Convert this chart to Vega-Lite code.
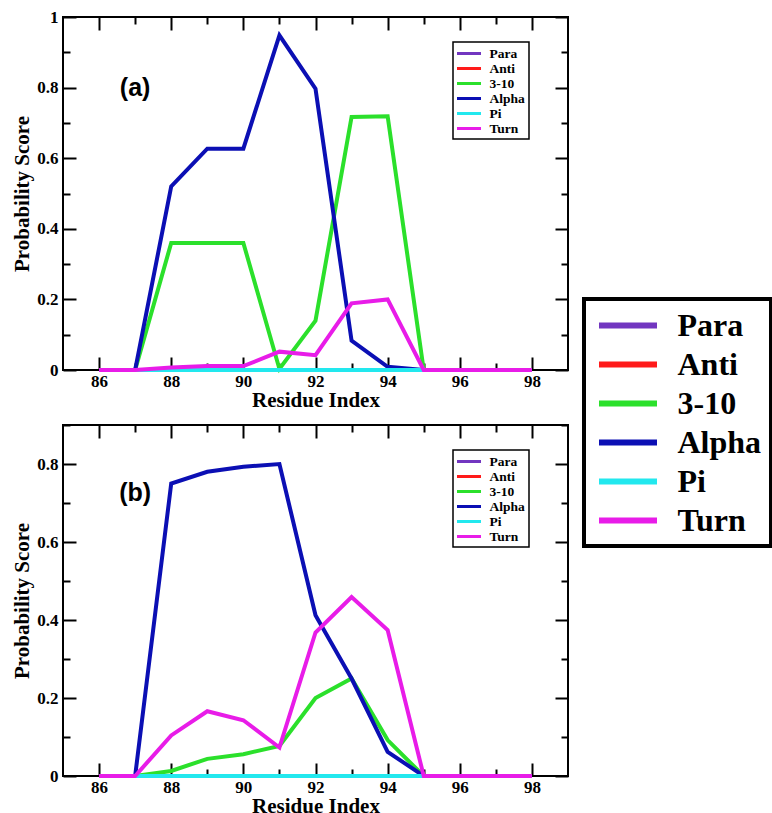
{
  "$schema": "https://vega.github.io/schema/vega-lite/v6.json",
  "usermeta": {"embedOptions": {"actions": false}},
  "padding": {"left": 10, "top": 7, "right": 0, "bottom": 0},
  "bounds": "flush",
  "spacing": 55,
  "config": {
    "view": {"stroke": "black", "strokeWidth": 2},
    "font": "Liberation Serif",
    "axis": {
      "labelFont": "Liberation Serif", "labelFontWeight": "bold", "labelFontSize": 17, "labelColor": "black",
      "titleFont": "Liberation Serif", "titleFontWeight": "bold", "titleFontSize": 21, "titleColor": "black",
      "domain": false, "grid": false, "tickColor": "black", "tickWidth": 2,
      "labelOverlap": false, "labelFlush": false
    },
    "legend": {
      "title": null, "orient": "none", "symbolType": "M-2,0H2", "symbolOpacity": 1,
      "labelFont": "Liberation Serif", "labelFontWeight": "bold", "labelColor": "black",
      "strokeColor": "black", "fillColor": "white"
    }
  },
  "datasets": {
    "a": [
      {"series": "Para", "residue": 86, "score": 0}, {"series": "Para", "residue": 87, "score": 0}, {"series": "Para", "residue": 88, "score": 0}, {"series": "Para", "residue": 89, "score": 0}, {"series": "Para", "residue": 90, "score": 0}, {"series": "Para", "residue": 91, "score": 0}, {"series": "Para", "residue": 92, "score": 0}, {"series": "Para", "residue": 93, "score": 0}, {"series": "Para", "residue": 94, "score": 0}, {"series": "Para", "residue": 95, "score": 0}, {"series": "Para", "residue": 96, "score": 0}, {"series": "Para", "residue": 97, "score": 0}, {"series": "Para", "residue": 98, "score": 0},
      {"series": "Anti", "residue": 86, "score": 0}, {"series": "Anti", "residue": 87, "score": 0}, {"series": "Anti", "residue": 88, "score": 0}, {"series": "Anti", "residue": 89, "score": 0}, {"series": "Anti", "residue": 90, "score": 0}, {"series": "Anti", "residue": 91, "score": 0}, {"series": "Anti", "residue": 92, "score": 0}, {"series": "Anti", "residue": 93, "score": 0}, {"series": "Anti", "residue": 94, "score": 0}, {"series": "Anti", "residue": 95, "score": 0}, {"series": "Anti", "residue": 96, "score": 0}, {"series": "Anti", "residue": 97, "score": 0}, {"series": "Anti", "residue": 98, "score": 0},
      {"series": "3-10", "residue": 86, "score": 0}, {"series": "3-10", "residue": 87, "score": 0}, {"series": "3-10", "residue": 88, "score": 0.36}, {"series": "3-10", "residue": 89, "score": 0.36}, {"series": "3-10", "residue": 90, "score": 0.36}, {"series": "3-10", "residue": 91, "score": 0.003}, {"series": "3-10", "residue": 92, "score": 0.14}, {"series": "3-10", "residue": 93, "score": 0.717}, {"series": "3-10", "residue": 94, "score": 0.719}, {"series": "3-10", "residue": 95, "score": 0}, {"series": "3-10", "residue": 96, "score": 0}, {"series": "3-10", "residue": 97, "score": 0}, {"series": "3-10", "residue": 98, "score": 0},
      {"series": "Alpha", "residue": 86, "score": 0}, {"series": "Alpha", "residue": 87, "score": 0}, {"series": "Alpha", "residue": 88, "score": 0.52}, {"series": "Alpha", "residue": 89, "score": 0.627}, {"series": "Alpha", "residue": 90, "score": 0.627}, {"series": "Alpha", "residue": 91, "score": 0.948}, {"series": "Alpha", "residue": 92, "score": 0.797}, {"series": "Alpha", "residue": 93, "score": 0.083}, {"series": "Alpha", "residue": 94, "score": 0.009}, {"series": "Alpha", "residue": 95, "score": 0}, {"series": "Alpha", "residue": 96, "score": 0}, {"series": "Alpha", "residue": 97, "score": 0}, {"series": "Alpha", "residue": 98, "score": 0},
      {"series": "Pi", "residue": 86, "score": 0}, {"series": "Pi", "residue": 87, "score": 0}, {"series": "Pi", "residue": 88, "score": 0}, {"series": "Pi", "residue": 89, "score": 0}, {"series": "Pi", "residue": 90, "score": 0}, {"series": "Pi", "residue": 91, "score": 0}, {"series": "Pi", "residue": 92, "score": 0}, {"series": "Pi", "residue": 93, "score": 0}, {"series": "Pi", "residue": 94, "score": 0}, {"series": "Pi", "residue": 95, "score": 0}, {"series": "Pi", "residue": 96, "score": 0}, {"series": "Pi", "residue": 97, "score": 0}, {"series": "Pi", "residue": 98, "score": 0},
      {"series": "Turn", "residue": 86, "score": 0}, {"series": "Turn", "residue": 87, "score": 0}, {"series": "Turn", "residue": 88, "score": 0.007}, {"series": "Turn", "residue": 89, "score": 0.011}, {"series": "Turn", "residue": 90, "score": 0.011}, {"series": "Turn", "residue": 91, "score": 0.052}, {"series": "Turn", "residue": 92, "score": 0.042}, {"series": "Turn", "residue": 93, "score": 0.189}, {"series": "Turn", "residue": 94, "score": 0.2}, {"series": "Turn", "residue": 95, "score": 0}, {"series": "Turn", "residue": 96, "score": 0}, {"series": "Turn", "residue": 97, "score": 0}, {"series": "Turn", "residue": 98, "score": 0}
    ],
    "b": [
      {"series": "Para", "residue": 86, "score": 0}, {"series": "Para", "residue": 87, "score": 0}, {"series": "Para", "residue": 88, "score": 0}, {"series": "Para", "residue": 89, "score": 0}, {"series": "Para", "residue": 90, "score": 0}, {"series": "Para", "residue": 91, "score": 0}, {"series": "Para", "residue": 92, "score": 0}, {"series": "Para", "residue": 93, "score": 0}, {"series": "Para", "residue": 94, "score": 0}, {"series": "Para", "residue": 95, "score": 0}, {"series": "Para", "residue": 96, "score": 0}, {"series": "Para", "residue": 97, "score": 0}, {"series": "Para", "residue": 98, "score": 0},
      {"series": "Anti", "residue": 86, "score": 0}, {"series": "Anti", "residue": 87, "score": 0}, {"series": "Anti", "residue": 88, "score": 0}, {"series": "Anti", "residue": 89, "score": 0}, {"series": "Anti", "residue": 90, "score": 0}, {"series": "Anti", "residue": 91, "score": 0}, {"series": "Anti", "residue": 92, "score": 0}, {"series": "Anti", "residue": 93, "score": 0}, {"series": "Anti", "residue": 94, "score": 0}, {"series": "Anti", "residue": 95, "score": 0}, {"series": "Anti", "residue": 96, "score": 0}, {"series": "Anti", "residue": 97, "score": 0}, {"series": "Anti", "residue": 98, "score": 0},
      {"series": "3-10", "residue": 86, "score": 0}, {"series": "3-10", "residue": 87, "score": 0}, {"series": "3-10", "residue": 88, "score": 0.013}, {"series": "3-10", "residue": 89, "score": 0.044}, {"series": "3-10", "residue": 90, "score": 0.056}, {"series": "3-10", "residue": 91, "score": 0.077}, {"series": "3-10", "residue": 92, "score": 0.2}, {"series": "3-10", "residue": 93, "score": 0.25}, {"series": "3-10", "residue": 94, "score": 0.092}, {"series": "3-10", "residue": 95, "score": 0}, {"series": "3-10", "residue": 96, "score": 0}, {"series": "3-10", "residue": 97, "score": 0}, {"series": "3-10", "residue": 98, "score": 0},
      {"series": "Alpha", "residue": 86, "score": 0}, {"series": "Alpha", "residue": 87, "score": 0}, {"series": "Alpha", "residue": 88, "score": 0.75}, {"series": "Alpha", "residue": 89, "score": 0.78}, {"series": "Alpha", "residue": 90, "score": 0.793}, {"series": "Alpha", "residue": 91, "score": 0.8}, {"series": "Alpha", "residue": 92, "score": 0.412}, {"series": "Alpha", "residue": 93, "score": 0.25}, {"series": "Alpha", "residue": 94, "score": 0.062}, {"series": "Alpha", "residue": 95, "score": 0}, {"series": "Alpha", "residue": 96, "score": 0}, {"series": "Alpha", "residue": 97, "score": 0}, {"series": "Alpha", "residue": 98, "score": 0},
      {"series": "Pi", "residue": 86, "score": 0}, {"series": "Pi", "residue": 87, "score": 0}, {"series": "Pi", "residue": 88, "score": 0}, {"series": "Pi", "residue": 89, "score": 0}, {"series": "Pi", "residue": 90, "score": 0}, {"series": "Pi", "residue": 91, "score": 0}, {"series": "Pi", "residue": 92, "score": 0}, {"series": "Pi", "residue": 93, "score": 0}, {"series": "Pi", "residue": 94, "score": 0}, {"series": "Pi", "residue": 95, "score": 0}, {"series": "Pi", "residue": 96, "score": 0}, {"series": "Pi", "residue": 97, "score": 0}, {"series": "Pi", "residue": 98, "score": 0},
      {"series": "Turn", "residue": 86, "score": 0}, {"series": "Turn", "residue": 87, "score": 0}, {"series": "Turn", "residue": 88, "score": 0.104}, {"series": "Turn", "residue": 89, "score": 0.166}, {"series": "Turn", "residue": 90, "score": 0.143}, {"series": "Turn", "residue": 91, "score": 0.073}, {"series": "Turn", "residue": 92, "score": 0.368}, {"series": "Turn", "residue": 93, "score": 0.459}, {"series": "Turn", "residue": 94, "score": 0.374}, {"series": "Turn", "residue": 95, "score": 0}, {"series": "Turn", "residue": 96, "score": 0}, {"series": "Turn", "residue": 97, "score": 0}, {"series": "Turn", "residue": 98, "score": 0}
    ]
  },
  "vconcat": [
    {
      "width": 505,
      "height": 353,
      "data": {"name": "a"},
      "layer": [
        {
          "mark": {"type": "line", "strokeWidth": 4},
          "encoding": {
            "x": {"field": "residue", "type": "quantitative", "scale": {"domain": [85, 99], "nice": false, "zero": false},
              "axis": {"orient": "bottom", "title": "Residue Index", "titlePadding": -6,
                "values": [86, 87, 88, 89, 90, 91, 92, 93, 94, 95, 96, 97, 98],
                "labelExpr": "datum.value % 2 == 0 ? datum.label : ''",
                "tickSize": {"condition": {"test": "datum.value % 2 == 0", "value": -13}, "value": -7},
                "labelPadding": 16}},
            "y": {"field": "score", "type": "quantitative", "scale": {"domain": [0, 1], "nice": false},
              "axis": {"orient": "left", "title": "Probability Score", "titlePadding": 4,
                "values": [0, 0.1, 0.2, 0.3, 0.4, 0.5, 0.6, 0.7, 0.8, 0.9, 1],
                "labelExpr": "round(datum.value * 10) % 2 == 0 ? format(datum.value, '~g') : ''",
                "tickSize": {"condition": {"test": "round(datum.value * 10) % 2 == 0", "value": -13}, "value": -7},
                "labelPadding": 18}},
            "color": {"field": "series", "type": "nominal",
              "scale": {"domain": ["Para", "Anti", "3-10", "Alpha", "Pi", "Turn"],
                "range": ["#7236c0", "#ff1a1a", "#2be02b", "#0b0fb4", "#22e8ee", "#e81ce8"]},
              "legend": {"legendX": 390, "legendY": 25, "symbolSize": 144, "symbolStrokeWidth": 3,
                "symbolOffset": 4.5, "labelFontSize": 13.5, "labelOffset": 13, "rowPadding": 1, "padding": 4,
                "encode": {"legend": {"update": {"strokeWidth": {"value": 1.5}}}}}}
          }
        },
        {
          "data": {"values": [{}]},
          "mark": {"type": "point", "opacity": 0},
          "encoding": {
            "x": {"datum": 86, "type": "quantitative",
              "axis": {"orient": "top", "title": null, "labels": false,
                "values": [86, 87, 88, 89, 90, 91, 92, 93, 94, 95, 96, 97, 98],
                "tickSize": {"condition": {"test": "datum.value % 2 == 0", "value": -13}, "value": -7}}},
            "y": {"datum": 0, "type": "quantitative",
              "axis": {"orient": "right", "title": null, "labels": false,
                "values": [0, 0.1, 0.2, 0.3, 0.4, 0.5, 0.6, 0.7, 0.8, 0.9, 1],
                "tickSize": {"condition": {"test": "round(datum.value * 10) % 2 == 0", "value": -13}, "value": -7}}}
          }
        },
        {
          "data": {"values": [{"label": "(a)"}]},
          "mark": {"type": "text", "font": "Liberation Sans", "fontWeight": "bold", "fontSize": 25, "align": "center", "baseline": "middle", "color": "black"},
          "encoding": {
            "x": {"datum": 87, "type": "quantitative", "axis": null},
            "y": {"datum": 0.8, "type": "quantitative", "axis": null},
            "text": {"field": "label"}
          }
        },
        {
          "mark": {"type": "line", "strokeWidth": 4, "strokeOpacity": 0},
          "encoding": {
            "x": {"field": "residue", "type": "quantitative", "axis": null},
            "y": {"field": "score", "type": "quantitative", "axis": null},
            "stroke": {"field": "series", "type": "nominal", "sort": null,
              "scale": {"range": ["#7236c0", "#ff1a1a", "#2be02b", "#0b0fb4", "#22e8ee", "#e81ce8"]},
              "legend": {"legendX": 521, "legendY": 282, "symbolSize": 841, "symbolStrokeWidth": 6,
                "symbolOffset": 17.5, "labelFontSize": 32, "labelOffset": 32, "rowPadding": 5, "padding": 9,
                "labelExpr": "datum.label + '\u00a0\u00a0\u00a0'",
                "encode": {"legend": {"update": {"strokeWidth": {"value": 4}}}}}}
          }
        }
      ],
      "resolve": {"axis": {"x": "independent", "y": "independent"}}
    },
    {
      "width": 505,
      "height": 351,
      "data": {"name": "b"},
      "layer": [
        {
          "mark": {"type": "line", "strokeWidth": 4},
          "encoding": {
            "x": {"field": "residue", "type": "quantitative", "scale": {"domain": [85, 99], "nice": false, "zero": false},
              "axis": {"orient": "bottom", "title": "Residue Index", "titlePadding": -6,
                "values": [86, 87, 88, 89, 90, 91, 92, 93, 94, 95, 96, 97, 98],
                "labelExpr": "datum.value % 2 == 0 ? datum.label : ''",
                "tickSize": {"condition": {"test": "datum.value % 2 == 0", "value": -13}, "value": -7},
                "labelPadding": 16}},
            "y": {"field": "score", "type": "quantitative", "scale": {"domain": [0, 0.9], "nice": false},
              "axis": {"orient": "left", "title": "Probability Score", "titlePadding": 4,
                "values": [0, 0.1, 0.2, 0.3, 0.4, 0.5, 0.6, 0.7, 0.8, 0.9],
                "labelExpr": "round(datum.value * 10) % 2 == 0 ? format(datum.value, '~g') : ''",
                "tickSize": {"condition": {"test": "round(datum.value * 10) % 2 == 0", "value": -13}, "value": -7},
                "labelPadding": 18}},
            "color": {"field": "series", "type": "nominal",
              "scale": {"domain": ["Para", "Anti", "3-10", "Alpha", "Pi", "Turn"],
                "range": ["#7236c0", "#ff1a1a", "#2be02b", "#0b0fb4", "#22e8ee", "#e81ce8"]},
              "legend": {"legendX": 390, "legendY": 25, "symbolSize": 144, "symbolStrokeWidth": 3,
                "symbolOffset": 4.5, "labelFontSize": 13.5, "labelOffset": 13, "rowPadding": 1, "padding": 4,
                "encode": {"legend": {"update": {"strokeWidth": {"value": 1.5}}}}}}
          }
        },
        {
          "data": {"values": [{}]},
          "mark": {"type": "point", "opacity": 0},
          "encoding": {
            "x": {"datum": 86, "type": "quantitative",
              "axis": {"orient": "top", "title": null, "labels": false,
                "values": [86, 87, 88, 89, 90, 91, 92, 93, 94, 95, 96, 97, 98],
                "tickSize": {"condition": {"test": "datum.value % 2 == 0", "value": -13}, "value": -7}}},
            "y": {"datum": 0, "type": "quantitative",
              "axis": {"orient": "right", "title": null, "labels": false,
                "values": [0, 0.1, 0.2, 0.3, 0.4, 0.5, 0.6, 0.7, 0.8, 0.9],
                "tickSize": {"condition": {"test": "round(datum.value * 10) % 2 == 0", "value": -13}, "value": -7}}}
          }
        },
        {
          "data": {"values": [{"label": "(b)"}]},
          "mark": {"type": "text", "font": "Liberation Sans", "fontWeight": "bold", "fontSize": 25, "align": "center", "baseline": "middle", "color": "black"},
          "encoding": {
            "x": {"datum": 87, "type": "quantitative", "axis": null},
            "y": {"datum": 0.725, "type": "quantitative", "axis": null},
            "text": {"field": "label"}
          }
        }
      ],
      "resolve": {"axis": {"x": "independent", "y": "independent"}}
    }
  ],
  "resolve": {"legend": {"color": "independent", "stroke": "independent"}}
}
